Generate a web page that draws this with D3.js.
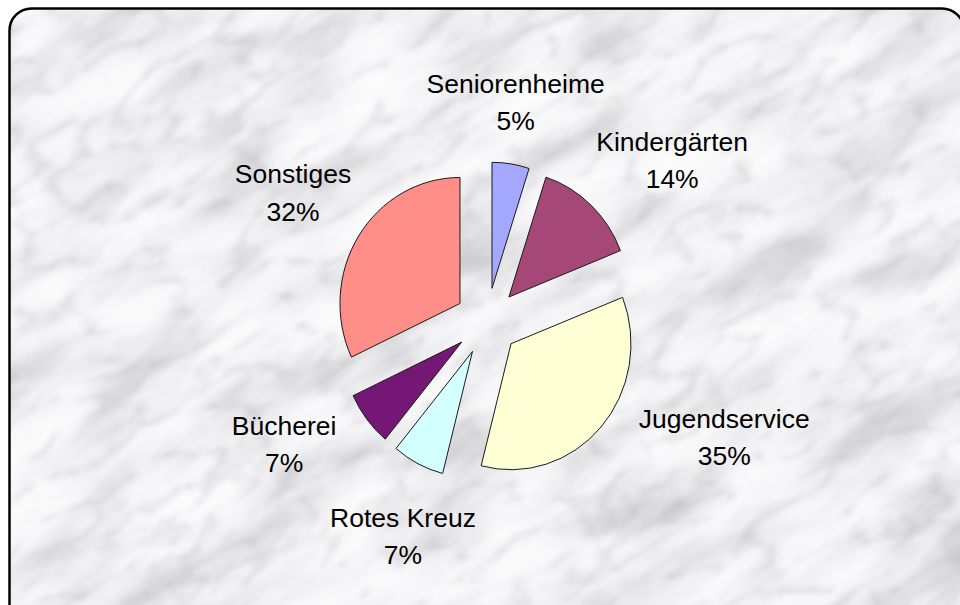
<!DOCTYPE html>
<html>
<head>
<meta charset="utf-8">
<script src="https://cdn.jsdelivr.net/npm/d3@7"></script>
<style>
  html, body { margin: 0; padding: 0; background: #ffffff; }
  svg { display: block; }
</style>
</head>
<body>
<svg id="chart" width="960" height="605"></svg>
<script>
// ---- data ----
const categories = ["Seniorenheime", "Kindergärten", "Jugendservice", "Rotes Kreuz", "Bücherei", "Sonstiges"];
const values = [5, 14, 35, 7, 7, 32];
const percentLabels = ["5%", "14%", "35%", "7%", "7%", "32%"];
const sliceColors = ["#A4A8FF", "#A64877", "#FFFFD5", "#D3FFFF", "#751875", "#FF8E88"];

// ---- layout ----
const W = 960, H = 605;
const cx = 487, cy = 321.5;
const radius = 120;
const yStretch = 1.05;
const explode = 32;
const labelRadius = 215;
const labelNudge = [[-5, 3.5], [38, 3], [76, -34], [13.6, 13.4], [-33, -16], [-12.5, -8]];
const fontSize = 26.5, lineGap = 37.5;

const svg = d3.select("#chart");
const defs = svg.append("defs");

// marble texture
const f = defs.append("filter").attr("id", "marble")
  .attr("filterUnits", "userSpaceOnUse")
  .attr("x", 0).attr("y", 0).attr("width", 1600).attr("height", 1400);
f.append("feTurbulence").attr("type", "fractalNoise")
  .attr("baseFrequency", "0.008 0.02").attr("numOctaves", 5).attr("seed", 11).attr("result", "n1");
f.append("feColorMatrix").attr("in", "n1").attr("type", "matrix")
  .attr("values", "1 0 0 0 0  1 0 0 0 0  1 0 0 0 0  0 0 0 0 1").attr("result", "g1");
const ct = f.append("feComponentTransfer").attr("in", "g1").attr("result", "m1");
ct.append("feFuncR").attr("type", "table").attr("tableValues", "0.6 0.66 0.75 0.85 0.92 0.955 0.97 0.98");
ct.append("feFuncG").attr("type", "table").attr("tableValues", "0.6 0.66 0.75 0.85 0.92 0.955 0.97 0.98");
ct.append("feFuncB").attr("type", "table").attr("tableValues", "0.62 0.68 0.77 0.87 0.935 0.965 0.98 0.99");
f.append("feTurbulence").attr("type", "turbulence")
  .attr("baseFrequency", "0.011 0.027").attr("numOctaves", 4).attr("seed", 5).attr("result", "n2");
f.append("feColorMatrix").attr("in", "n2").attr("type", "matrix")
  .attr("values", "0 0 0 0 0.42  0 0 0 0 0.42  0 0 0 0 0.45  -1.9 0 0 0 0.45").attr("result", "veins");
f.append("feGaussianBlur").attr("in", "veins").attr("stdDeviation", 2.2).attr("result", "vb");
f.append("feMerge").call(m => { m.append("feMergeNode").attr("in", "m1"); m.append("feMergeNode").attr("in", "vb"); });
f.append("feGaussianBlur").attr("stdDeviation", 0.8);

defs.append("clipPath").attr("id", "frameClip")
  .append("rect").attr("x", 9.5).attr("y", 8.5).attr("width", 954.5).attr("height", 640).attr("rx", 22);

const bg = svg.append("g").attr("clip-path", "url(#frameClip)");
bg.append("g").attr("transform", "translate(480,300) rotate(-32) translate(-800,-700)")
  .append("rect").attr("x", 0).attr("y", 0).attr("width", 1600).attr("height", 1400)
  .attr("fill", "#eee").attr("filter", "url(#marble)");

svg.append("rect").attr("x", 9.5).attr("y", 8.5).attr("width", 954.5).attr("height", 640).attr("rx", 22)
  .attr("fill", "none").attr("stroke", "#000").attr("stroke-width", 2.5);

// ---- pie ----
const pie = d3.pie().sort(null).value(d => d).startAngle(0).endAngle(2 * Math.PI);
const arcs = pie(values);
const arc = d3.arc().innerRadius(0).outerRadius(radius);

const pieG = svg.append("g").attr("transform", `translate(${cx},${cy}) scale(1,${yStretch})`);
pieG.selectAll("path").data(arcs).join("path")
  .attr("transform", d => {
    const a = (d.startAngle + d.endAngle) / 2;
    return `translate(${explode * Math.sin(a)},${-explode * Math.cos(a)})`;
  })
  .attr("d", arc)
  .attr("fill", (d, i) => sliceColors[i])
  .attr("stroke", "#1a1a1a").attr("stroke-width", 1)
  .attr("vector-effect", "non-scaling-stroke")
  .attr("stroke-linejoin", "round");

// ---- labels ----
const lab = svg.append("g")
  .attr("font-family", "'Liberation Sans', Arial, sans-serif")
  .attr("font-size", fontSize).attr("fill", "#000").attr("text-anchor", "middle");
arcs.forEach((d, i) => {
  const a = (d.startAngle + d.endAngle) / 2;
  const x = cx + labelRadius * Math.sin(a) + labelNudge[i][0];
  const yc = cy - labelRadius * yStretch * Math.cos(a) + labelNudge[i][1];
  const y1 = yc - lineGap / 2 + 9.5;
  const t = lab.append("text").attr("x", x).attr("y", y1);
  t.append("tspan").attr("x", x).attr("y", y1).text(categories[i]);
  t.append("tspan").attr("x", x).attr("y", y1 + lineGap).text(percentLabels[i]);
});
</script>
</body>
</html>
